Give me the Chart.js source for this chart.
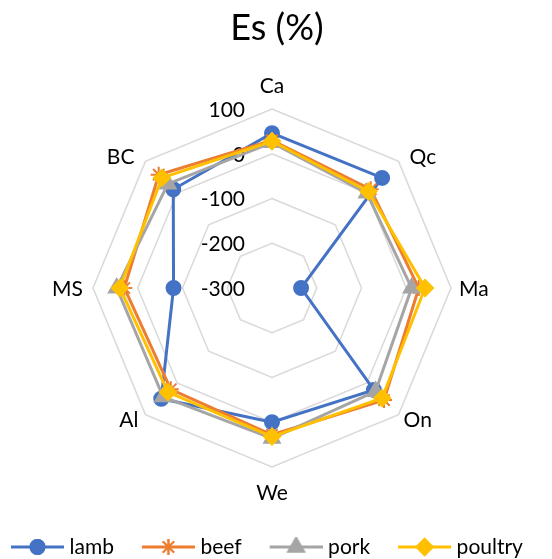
<!DOCTYPE html>
<html lang="en">
<head>
<meta charset="UTF-8">
<title>Es (%)</title>
<script src="https://cdn.jsdelivr.net/npm/chart.js"></script>
<style>
  body { margin: 0; background: #fff; }
  #wrap { width: 552px; height: 559px; }
</style>
</head>
<body>
<div id="wrap"><canvas id="esChart"></canvas></div>
<script>
var categories = ['Ca', 'Qc', 'Ma', 'On', 'We', 'Al', 'MS', 'BC'];
var lamb    = [46, 48, -235, 22, 0, 50, -80, 12];
var beef    = [30, 12, 28, 54, 28, 20, 30, 58];
var pork    = [25, 0, 12, 27, 36, 44, 47, 29];
var poultry = [28, 5, 42, 48, 32, 29, 40, 48];
var tickValues = [100, 0, -100, -200, -300];

var FONT = 'Lato';
var colors = ['#4472C4', '#ED7D31', '#A5A5A5', '#FFC000'];
var styles = ['circle', 'star', 'triangle', 'rectRot'];
var radii = [7, 8, 9, 8];
// where each axis name sits relative to the outer ring corner: align, dx, dy (cap centre)
var labelPlacement = [
    ['center', 0, -24], ['left', 11, -5], ['left', 8, 0], ['left', 5, 5],
    ['center', 0, 25], ['right', -7, 5], ['right', -10, 0], ['right', -11, -5]
];

// legend icon: short line with the marker in the middle
// (canvas is 10px wider than the legend box, icon sits to its right end)
function makeIcon(i) {
    var c = document.createElement('canvas');
    c.width = 84; c.height = 20;
    var g = c.getContext('2d');
    g.strokeStyle = colors[i];
    g.lineWidth = 3;
    g.beginPath(); g.moveTo(31, 10); g.lineTo(84, 10); g.stroke();
    g.fillStyle = colors[i];
    g.lineWidth = 2;
    Chart.helpers.drawPoint(g, { pointStyle: styles[i], radius: radii[i], borderWidth: 2, rotation: 0 }, 57.5, 10);
    g.fill();
    g.stroke();
    return c;
}

var labelsPlugin = {
    id: 'excelLabels',
    afterLayout: function (chart) {
        // nudge legend and title to where the original sits
        chart.legend.left -= 17;
        chart.legend.right -= 17;
        chart.titleBlock.left += 5;
        chart.titleBlock.right += 5;
    },
    beforeDatasetsDraw: function (chart) {
        var r = chart.scales.r, ctx = chart.ctx;
        ctx.save();
        ctx.font = '21px ' + FONT;
        ctx.fillStyle = '#000';
        ctx.textAlign = 'right';
        ctx.textBaseline = 'middle';
        tickValues.forEach(function (v) {
            var d = r.getDistanceFromCenterForValue(v);
            ctx.fillText(String(v), r.xCenter - 27, r.yCenter - d + 1);
        });
        ctx.restore();
    },
    afterDraw: function (chart) {
        var r = chart.scales.r, ctx = chart.ctx;
        ctx.save();
        ctx.font = '21px ' + FONT;
        ctx.fillStyle = '#000';
        ctx.textBaseline = 'alphabetic';
        categories.forEach(function (name, i) {
            var p = r.getPointPosition(i, r.drawingArea);
            var pl = labelPlacement[i];
            ctx.textAlign = pl[0];
            ctx.fillText(name, p.x + pl[1], p.y + pl[2] + 7.5);
        });
        ctx.restore();
    }
};

function series(label, values, i) {
    return {
        label: label,
        data: values,
        borderColor: colors[i],
        backgroundColor: colors[i],
        borderWidth: 3,
        fill: false,
        pointStyle: styles[i],
        pointRadius: radii[i],
        pointHoverRadius: radii[i],
        pointBorderWidth: 2,
        pointBackgroundColor: colors[i],
        pointBorderColor: colors[i],
        order: 3 - i
    };
}

var icons = [0, 1, 2, 3].map(makeIcon);

var ctx = document.getElementById('esChart').getContext('2d');
var chart = new Chart(ctx, {
    type: 'radar',
    data: {
        labels: categories,
        datasets: [
            series('lamb', lamb, 0),
            series('beef', beef, 1),
            series('pork', pork, 2),
            series('poultry', poultry, 3)
        ]
    },
    options: {
        responsive: true,
        maintainAspectRatio: false,
        animation: false,
        devicePixelRatio: 1,
        layout: { padding: { top: 0, bottom: -8.5, left: 0, right: 8 } },
        scales: {
            r: {
                min: Math.min.apply(null, tickValues),
                max: Math.max.apply(null, tickValues),
                ticks: { stepSize: 100, display: false },
                grid: { color: '#d9d9d9', lineWidth: 1.5 },
                angleLines: { display: false },
                pointLabels: {
                    // kept for the scale fit, drawn by the plugin above
                    color: 'rgba(0,0,0,0)',
                    padding: 12,
                    font: { family: FONT, size: 21 }
                }
            }
        },
        plugins: {
            title: {
                display: true,
                text: 'Es (%)',
                color: '#000',
                font: { family: FONT, size: 36, weight: 'normal' },
                padding: { top: 6.4, bottom: 23.2 }
            },
            legend: {
                position: 'bottom',
                align: 'start',
                title: {
                    display: true,
                    text: '',
                    font: { size: 1, lineHeight: 1 },
                    padding: { top: 0, bottom: 28.3 }
                },
                labels: {
                    color: '#000',
                    font: { family: FONT, size: 21 },
                    usePointStyle: true,
                    pointStyleWidth: 74,
                    padding: 2,
                    sort: function (a, b) { return a.datasetIndex - b.datasetIndex; },
                    generateLabels: function (ch) {
                        var items = Chart.defaults.plugins.legend.labels.generateLabels(ch);
                        items.forEach(function (it) { it.pointStyle = icons[it.datasetIndex]; });
                        return items;
                    }
                }
            },
            tooltip: { enabled: false }
        }
    },
    plugins: [labelsPlugin]
});
</script>
</body>
</html>
